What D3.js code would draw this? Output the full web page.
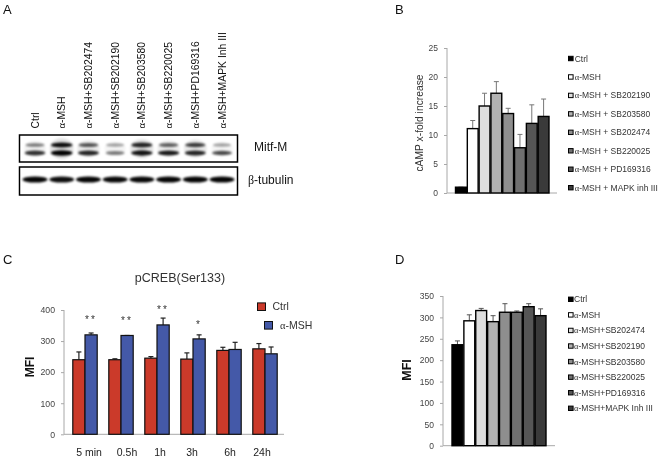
<!DOCTYPE html>
<html><head><meta charset="utf-8">
<script src="https://cdnjs.cloudflare.com/ajax/libs/d3/7.8.5/d3.min.js"></script>
<style>html,body{margin:0;padding:0;background:#fff}svg{display:block;filter:blur(0.35px)}text{font-family:"Liberation Sans",Arial,sans-serif}</style>
</head><body><svg id="c" width="661" height="459"></svg>
<script>
// Panel A
const laneLabels=["Ctrl","α-MSH","α-MSH+SB202474","α-MSH+SB202190","α-MSH+SB203580","α-MSH+SB220025","α-MSH+PD169316","α-MSH+MAPK Inh III"];
const mitfUpper=[.5,.95,.65,.35,.85,.6,.75,.35];
const mitfLower=[.8,1,.85,.5,.92,.9,.85,.7];
const tubulin=[.98,.95,.98,.97,.97,.98,.98,.98];
// Panel B
const bLabels=["Ctrl","α-MSH","α-MSH + SB202190","α-MSH + SB203580","α-MSH + SB202474","α-MSH + SB220025","α-MSH + PD169316","α-MSH + MAPK inh III"];
const bValues=[1,11.1,15,17.2,13.7,7.8,12,13.2];
const bErrTop=[1,12.5,17.2,19.2,14.6,10.1,15.2,16.2];
const bTicks=[0,5,10,15,20,25];
const grays=["#000000","#ffffff","#dedede","#b2b2b2","#8e8e8e","#707070","#565656","#3a3a3a"];
// Panel C
const cGroups=["5 min","0.5h","1h","3h","6h","24h"];
const cCtrl=[240,240,245,242,270,275];
const cCtrlTop=[265,243,250,262,280,292];
const cMsh=[320,318,352,307,273,259];
const cMshTop=[326,318,374,320,296,281];
const cStars=["**","**","**","*","",""];
const cTicks=[0,100,200,300,400];
const cLabelNudge=[4,6,3,-1,1,-3];
// Panel D
const dLabels=["Ctrl","α-MSH","α-MSH+SB202474","α-MSH+SB202190","α-MSH+SB203580","α-MSH+SB220025","α-MSH+PD169316","α-MSH+MAPK Inh III"];
const dValues=[236,292,316,290,312,312,325,304];
const dErrTop=[245,306,321,304,332,315,332,320];
const dTicks=[0,50,100,150,200,250,300,350];

const svg=d3.select("#c");
const defs=svg.append("defs");
defs.append("filter").attr("id","bl").attr("x","-30%").attr("y","-150%").attr("width","160%").attr("height","400%")
  .append("feGaussianBlur").attr("stdDeviation","1.3 0.8");

function rich(sel,s){
  sel.each(function(){
    const t=d3.select(this);t.text(null);
    s.split(/([αβ])/).filter(x=>x).forEach(p=>{
      const ts=t.append("tspan").text(p);
      if(p==="α"||p==="β")ts.style("font-family",'"Liberation Serif",serif');
    });
  });
  return sel;
}
function label(x,y,s,size,o={}){
  const t=svg.append("text").attr("x",x).attr("y",y).attr("font-size",size)
    .attr("fill",o.fill||"#222").attr("text-anchor",o.anchor||"start").attr("font-weight",o.weight||null);
  if(o.rot!==undefined)t.attr("transform",`rotate(${o.rot} ${x} ${y})`);
  rich(t,s);return t;
}
[["A",3,14],["B",395,13.5],["C",3,263.5],["D",395,264]].forEach(d=>label(d[1],d[2],d[0],13,{fill:"#111"}));

// ---- A
const lane=d3.scalePoint().domain(d3.range(8)).range([35,222]);
function blot(y0,y1,rows){
  const g=svg.append("g");
  const inner=g.append("g").attr("filter","url(#bl)");
  rows.forEach(r=>{
    inner.selectAll(null).data(r.vals).join("ellipse")
      .attr("cx",(d,i)=>lane(i)).attr("cy",r.y)
      .attr("rx",d=>r.w+r.dw*d).attr("ry",d=>r.h*(0.5+0.7*d))
      .attr("fill","#000").attr("opacity",d=>Math.min(1,d*r.k));
  });
  g.append("rect").attr("x",19.5).attr("y",y0).attr("width",218).attr("height",y1-y0)
   .attr("fill","none").attr("stroke","#000").attr("stroke-width",1.5);
}
blot(135,162,[
  {vals:mitfUpper,y:148.5,h:9,w:10,dw:2,k:.12},
  {vals:mitfUpper,y:145,h:2.2,w:8,dw:3,k:1},
  {vals:mitfLower,y:153,h:2.3,w:8,dw:3,k:1}]);
blot(167,195,[{vals:tubulin,y:179.5,h:2.6,w:10,dw:2.5,k:1}]);
laneLabels.forEach((s,i)=>label(lane(i)+3.5,128.5,s,10.4,{rot:-90,fill:"#111"}));
label(254,151,"Mitf-M",12,{fill:"#111"});
label(248,184,"β-tubulin",12,{fill:"#111"});

// ---- shared bars
function panel(o){
  const y=d3.scaleLinear().domain([0,o.max]).range([o.y0,o.y1]);
  const gy=svg.append("g").attr("transform",`translate(${o.x0},0)`)
    .call(d3.axisLeft(y).tickValues(o.ticks).tickSize(3).tickPadding(6).tickFormat(d3.format("d")));
  gy.selectAll("text").attr("font-size",o.tf).attr("fill","#444").style("font-family",'"Liberation Sans",Arial,sans-serif');
  gy.selectAll("line,path").attr("stroke","#a8a8a8");
  gy.select("path").attr("d",`M0,${o.y1}V${o.y0}`);
  const gx=svg.append("g").attr("transform",`translate(0,${o.y0})`);
  const x=d3.scaleBand().domain(d3.range(o.n)).range([o.x0,o.x1]);
  gx.call(d3.axisBottom(x).tickSize(0).tickFormat(""));
  gx.selectAll("path").attr("stroke","#a8a8a8");
  gx.select("path").attr("d",`M${o.x0},0H${o.x1}`);
  return y;
}
function greyBars(x,y,vals,tops,errCol){
  const g=svg.append("g");
  g.selectAll(null).data(vals).join("line").attr("x1",(d,i)=>x(i)+x.bandwidth()/2).attr("x2",(d,i)=>x(i)+x.bandwidth()/2)
    .attr("y1",d=>y(d)).attr("y2",(d,i)=>y(tops[i])).attr("stroke",errCol).attr("stroke-width",1);
  g.selectAll(null).data(vals).join("line").attr("x1",(d,i)=>x(i)+x.bandwidth()/2-2.5).attr("x2",(d,i)=>x(i)+x.bandwidth()/2+2.5)
    .attr("y1",(d,i)=>y(tops[i])).attr("y2",(d,i)=>y(tops[i])).attr("stroke",errCol).attr("stroke-width",1);
  g.selectAll(null).data(vals).join("rect").attr("x",(d,i)=>x(i)+.5).attr("width",x.bandwidth()-1)
    .attr("y",d=>y(d)).attr("height",d=>y(0)-y(d)).attr("fill",(d,i)=>grays[i]).attr("stroke","#000").attr("stroke-width",1.4);
}
function legendGrey(rows,yScale,tx,fs){
  rows.forEach((s,i)=>{
    svg.append("rect").attr("x",568.5).attr("y",yScale(i)-2.2).attr("width",4.6).attr("height",4.4)
      .attr("fill",grays[i]).attr("stroke","#000").attr("stroke-width",1);
    label(tx,yScale(i)+3,s,fs,{fill:"#333"});
  });
}

// B
{const o={x0:447,x1:557,y0:193,y1:48,max:25,ticks:bTicks,n:8,tf:8.5};
 const y=panel(o);
 const x=d3.scaleBand().domain(d3.range(8)).range([455,549.5]);
 greyBars(x,y,bValues,bErrTop,"#777");
 legendGrey(bLabels,d3.scaleLinear().domain([0,7]).range([58.5,187.7]),574.7,8.5);
 label(423,123,"cAMP x-fold increase",10.3,{rot:-90,anchor:"middle",fill:"#333"});
}
// D
{const o={x0:443,x1:555,y0:445.7,y1:296,max:350,ticks:dTicks,n:8,tf:8.5};
 const y=panel(o);
 const x=d3.scaleBand().domain(d3.range(8)).range([451.5,546.5]);
 greyBars(x,y,dValues,dErrTop,"#555");
 legendGrey(dLabels,d3.scaleLinear().domain([0,7]).range([299.3,408.3]),574,8.5);
 label(411,370,"MFI",12.5,{rot:-90,anchor:"middle",weight:"bold",fill:"#111"});
}
// C
{const o={x0:64,x1:284,y0:434.3,y1:310,max:400,ticks:cTicks,n:6,tf:8.7};
 const y=panel(o);
 const group=d3.scaleBand().domain(d3.range(6)).range([67,283]).paddingInner(0).paddingOuter(0);
 const col=["#cb3a2a","#4459a8"];
 const mid=i=>group(i)+group.bandwidth()/2;
 [[cCtrl,cCtrlTop,-12.2,0],[cMsh,cMshTop,0,1]].forEach(([vals,tops,dx,k])=>{
   const g=svg.append("g");
   const cx=i=>mid(i)+dx+6.1;
   g.selectAll(null).data(vals).join("line").attr("x1",(d,i)=>cx(i)).attr("x2",(d,i)=>cx(i))
     .attr("y1",d=>y(d)).attr("y2",(d,i)=>y(tops[i])).attr("stroke","#222").attr("stroke-width",1.2);
   g.selectAll(null).data(vals).join("line").attr("x1",(d,i)=>cx(i)-2.5).attr("x2",(d,i)=>cx(i)+2.5)
     .attr("y1",(d,i)=>y(tops[i])).attr("y2",(d,i)=>y(tops[i])).attr("stroke","#222").attr("stroke-width",1.2);
   g.selectAll(null).data(vals).join("rect").attr("x",(d,i)=>mid(i)+dx).attr("width",12.2)
     .attr("y",d=>y(d)).attr("height",d=>y(0)-y(d)).attr("fill",col[k]).attr("stroke","#111").attr("stroke-width",1.2);
 });
 const starY=[323,324,313,328];
 cStars.forEach((s,i)=>{ if(s) svg.append("text").attr("x",mid(i)+6.1).attr("y",starY[i]).attr("text-anchor","middle")
   .attr("font-size",10).attr("letter-spacing",2.2).attr("fill","#333").text(s); });
 cGroups.forEach((s,i)=>label(mid(i)+cLabelNudge[i],456,s,10.5,{anchor:"middle",fill:"#222"}));
 label(180,282,"pCREB(Ser133)",12.5,{anchor:"middle",fill:"#333"});
 label(34,367,"MFI",12,{rot:-90,anchor:"middle",weight:"bold",fill:"#111"});
 [["Ctrl",257.5,306.7,272.5,0],["α-MSH",264.5,325.3,280,1]].forEach(([s,sx,sy,tx,k])=>{
   svg.append("rect").attr("x",sx).attr("y",sy-3.8).attr("width",8).attr("height",7.6).attr("fill",col[k]).attr("stroke","#111").attr("stroke-width",1);
   label(tx,sy+3.5,s,10.5,{fill:"#333"});
 });
}
</script></body></html>
